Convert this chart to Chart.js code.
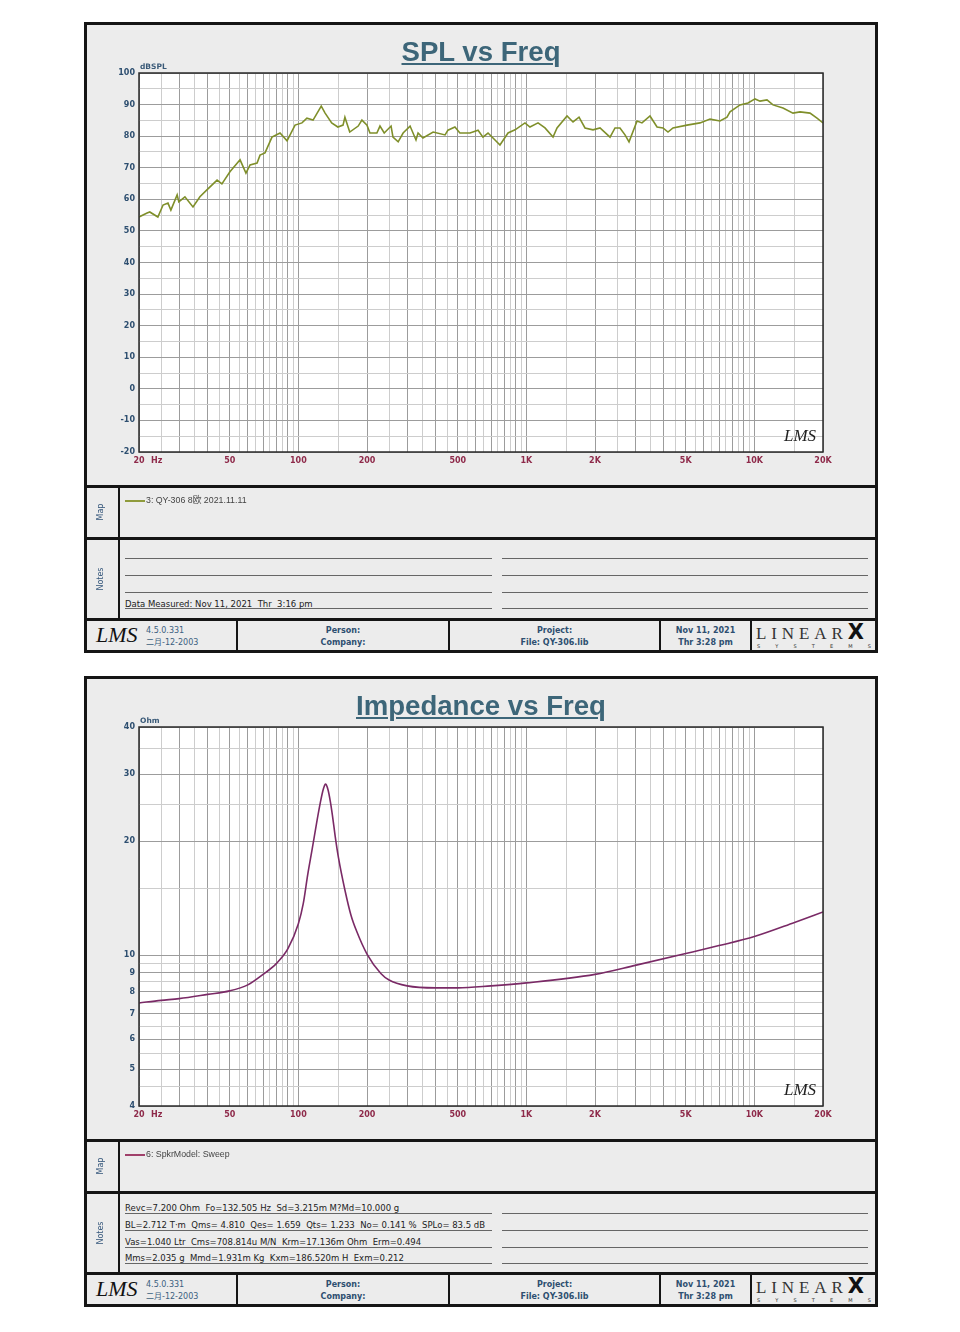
<!DOCTYPE html>
<html><head><meta charset="utf-8">
<script src="https://cdn.jsdelivr.net/npm/chart.js@4.4.0/dist/chart.umd.min.js"></script>
<style>
body{margin:0;background:#fff;width:960px;height:1332px;position:relative;font-family:"DejaVu Sans",sans-serif;}
.panel{position:absolute;left:84px;width:794px;height:631px;box-sizing:border-box;border:3px solid #151515;background:#ececec;overflow:hidden}
.panel canvas{position:absolute;left:0;top:0}
.title{position:absolute;left:0;top:12px;width:788px;text-align:center;font:bold 27.6px/30px "Liberation Sans",sans-serif;color:#3d6679;text-decoration:underline;text-decoration-thickness:2px;text-underline-offset:2px}
.plogo{position:absolute;left:697px;top:401px;font:italic 17px "Liberation Serif",serif;color:#222}
.hbar{position:absolute;left:0;width:788px;height:3px;background:#151515}
.vbar{position:absolute;width:2px;background:#151515}
.side{position:absolute;left:-15px;width:60px;height:12px;line-height:12px;margin-top:-6px;text-align:center;transform:rotate(-90deg);font:8px "DejaVu Sans";color:#33557a}
.legline{position:absolute;left:38px;width:20px;height:1.5px}
.legtext{position:absolute;left:59px;font:8.8px/10px "Liberation Sans","Noto Sans CJK SC",sans-serif;color:#444;white-space:pre}
.nl{position:absolute;height:1px;background:#666}
.nt{position:absolute;left:38px;font:8.5px/10px "DejaVu Sans",sans-serif;color:#222;white-space:pre}
.ft{position:absolute;font:8px/12px "DejaVu Sans","Noto Sans CJK SC",sans-serif;color:#2e4f70;text-align:center}
.flogo{position:absolute;left:9px;top:596px;font:italic 22px/28px "Liberation Serif",serif;color:#111}
.lx{position:absolute;left:669px;top:597px;width:118px;white-space:nowrap}
.lxl{font:17px/20px "Liberation Serif",serif;letter-spacing:4.9px;color:#333}
.lxx{font:900 21px/20px "DejaVu Sans",sans-serif;color:#111}
.lxs{position:absolute;left:670px;top:618px;width:114px;font:5px/6px "DejaVu Sans";color:#333;display:flex;justify-content:space-between}
</style></head><body>

<div class="panel" style="top:22px">
  <canvas id="c1" width="788" height="460"></canvas>
  <div class="title">SPL vs Freq</div>
  <div class="plogo">LMS</div>
  <div class="hbar" style="top:460px"></div>
  <div class="vbar" style="left:31px;top:463px;height:49px"></div>
  <div class="side" style="top:487px">Map</div>
  <div class="legline" style="top:475px;background:#8f9b3c"></div>
  <div class="legtext" style="top:470px">3: QY-306 8欧 2021.11.11</div>
  <div class="hbar" style="top:512px"></div>
  <div class="vbar" style="left:31px;top:515px;height:78px"></div>
  <div class="side" style="top:554px">Notes</div>
  <div class="nl" style="left:38px;width:367px;top:533px"></div>
  <div class="nl" style="left:38px;width:367px;top:550px"></div>
  <div class="nl" style="left:38px;width:367px;top:567px"></div>
  <div class="nl" style="left:38px;width:367px;top:583px"></div>
  <div class="nl" style="left:415px;width:366px;top:533px"></div>
  <div class="nl" style="left:415px;width:366px;top:550px"></div>
  <div class="nl" style="left:415px;width:366px;top:567px"></div>
  <div class="nl" style="left:415px;width:366px;top:583px"></div>
  <div class="nt" style="top:574px">Data Measured: Nov 11, 2021  Thr  3:16 pm</div>
  <div class="hbar" style="top:593px"></div>
  <div class="vbar" style="left:149px;top:596px;height:29px"></div>
  <div class="vbar" style="left:361px;top:596px;height:29px"></div>
  <div class="vbar" style="left:572px;top:596px;height:29px"></div>
  <div class="vbar" style="left:663px;top:596px;height:29px"></div>
  <div class="flogo">LMS</div>
  <div class="ft" style="left:59px;top:600px;text-align:left;color:#3b6080">4.5.0.331<br>二月-12-2003</div>
  <div class="ft" style="left:151px;width:210px;top:600px;font-weight:bold">Person:<br>Company:</div>
  <div class="ft" style="left:363px;width:209px;top:600px;font-weight:bold">Project:<br>File: QY-306.lib</div>
  <div class="ft" style="left:574px;width:89px;top:600px;font-weight:bold">Nov 11, 2021<br>Thr  3:28 pm</div>
  <div class="lx"><span class="lxl">LINEAR</span><span class="lxx">X</span></div>
  <div class="lxs"><span>S</span><span>Y</span><span>S</span><span>T</span><span>E</span><span>M</span><span>S</span></div>
</div>

<div class="panel" style="top:676px">
  <canvas id="c2" width="788" height="460"></canvas>
  <div class="title">Impedance vs Freq</div>
  <div class="plogo">LMS</div>
  <div class="hbar" style="top:460px"></div>
  <div class="vbar" style="left:31px;top:463px;height:49px"></div>
  <div class="side" style="top:487px">Map</div>
  <div class="legline" style="top:475px;background:#a0406a"></div>
  <div class="legtext" style="top:470px">6: SpkrModel: Sweep</div>
  <div class="hbar" style="top:512px"></div>
  <div class="vbar" style="left:31px;top:515px;height:78px"></div>
  <div class="side" style="top:554px">Notes</div>
  <div class="nl" style="left:38px;width:367px;top:534px"></div>
  <div class="nl" style="left:38px;width:367px;top:551px"></div>
  <div class="nl" style="left:38px;width:367px;top:568px"></div>
  <div class="nl" style="left:38px;width:367px;top:584px"></div>
  <div class="nl" style="left:415px;width:366px;top:534px"></div>
  <div class="nl" style="left:415px;width:366px;top:551px"></div>
  <div class="nl" style="left:415px;width:366px;top:568px"></div>
  <div class="nl" style="left:415px;width:366px;top:584px"></div>
  <div class="nt" style="top:524px">Revc=7.200 Ohm  Fo=132.505 Hz  Sd=3.215m M?Md=10.000 g</div>
  <div class="nt" style="top:541px">BL=2.712 T·m  Qms= 4.810  Qes= 1.659  Qts= 1.233  No= 0.141 %  SPLo= 83.5 dB</div>
  <div class="nt" style="top:558px">Vas=1.040 Ltr  Cms=708.814u M/N  Krm=17.136m Ohm  Erm=0.494</div>
  <div class="nt" style="top:574px">Mms=2.035 g  Mmd=1.931m Kg  Kxm=186.520m H  Exm=0.212</div>
  <div class="hbar" style="top:593px"></div>
  <div class="vbar" style="left:149px;top:596px;height:29px"></div>
  <div class="vbar" style="left:361px;top:596px;height:29px"></div>
  <div class="vbar" style="left:572px;top:596px;height:29px"></div>
  <div class="vbar" style="left:663px;top:596px;height:29px"></div>
  <div class="flogo">LMS</div>
  <div class="ft" style="left:59px;top:600px;text-align:left;color:#3b6080">4.5.0.331<br>二月-12-2003</div>
  <div class="ft" style="left:151px;width:210px;top:600px;font-weight:bold">Person:<br>Company:</div>
  <div class="ft" style="left:363px;width:209px;top:600px;font-weight:bold">Project:<br>File: QY-306.lib</div>
  <div class="ft" style="left:574px;width:89px;top:600px;font-weight:bold">Nov 11, 2021<br>Thr  3:28 pm</div>
  <div class="lx"><span class="lxl">LINEAR</span><span class="lxx">X</span></div>
  <div class="lxs"><span>S</span><span>Y</span><span>S</span><span>T</span><span>E</span><span>M</span><span>S</span></div>
</div>

<script>
// ---- data ----
const splFreqHz = [20,21.7,22.3,24.2,25.5,26.8,27.6,29.4,29.9,31.8,
  34.5,37,39.7,44,46.2,50.1,55.5,58.9,61.4,65.9,
  67.9,71.4,76.6,83.1,89.2,96.7,103.7,109,116,126,
  131,140,149,157,160,168,183,190,200,206,
  221,228,238,255,260,274,288,309,328,335,
  352,390,440,453,486,511,566,614,645,679,
  714,766,831,892,986,1037,1125,1207,1309,1363,
  1508,1602,1702,1808,1960,2104,2328,2448,2574,2708,
  2820,3058,3214,3486,3742,3974,4180,4396,5064,5774,
  6390,7068,7586,7818,8650,9380,10066,10586,11360,12070,
  13352,14770,15858,17540,18824,20000];
const splDb = [54.4,55.7,56,54.4,58.2,58.8,56.6,61.4,59.2,60.8,
  57.6,60.8,63,66.1,64.9,68.7,72.5,68.3,70.9,71.5,
  74,74.7,79.7,81,78.5,83.5,84.2,85.7,85.1,89.5,
  87.3,84.2,82.9,83.5,86,81.3,83.2,85.1,83.5,81,
  81,83.2,81,83.2,79.7,78.2,81,83.2,78.8,81,
  79.4,81.3,80.4,81.9,82.9,81,81,81.9,79.7,81,
  79.4,77.2,81,82,84.2,82.9,84.2,82.6,79.7,82.6,
  86.4,84.5,86,82.6,82,82.6,79.7,82.6,82.6,80.4,
  78.2,84.8,84.2,86.4,82.9,82.6,81.3,82.6,83.5,84.2,
  85.4,84.8,86,87.7,89.9,90.5,91.8,91.1,91.5,89.9,
  88.9,87.3,87.7,87.3,85.7,84.2];

const impFreqHz = [20,25,30,40,50,60,70,80,90,100,105,110,115,120,125,128,130,131.4,132.5,135,
  138,141,145,150,160,170,180,200,230,250,300,400,500,700,1000,2000,3000,5000,7000,10000,15000,20000];
const impOhm = [7.48,7.6,7.68,7.88,8.05,8.35,8.9,9.5,10.4,12.1,13.65,16.37,19.07,22.18,25.37,27.12,27.95,28.3,28.2,27.28,
  25.51,23.43,20.62,18.05,14.86,12.77,11.58,10.07,8.95,8.6,8.3,8.2,8.2,8.3,8.45,8.9,9.4,10.1,10.6,11.2,12.2,13.0];

const xLabelHz = [20,50,100,200,500,1000,2000,5000,10000,20000];
const xLabelText = ['20','50','100','200','500','1K','2K','5K','10K','20K'];
const xGridSteps = [1,1.5,2,2.5,3,3.5,4,4.5,5,5.5,6,6.5,7,7.5,8,8.5,9,9.5];
const xGridDecades = [10,100,1000,10000];

const splYMin = -20, splYMax = 100, splYStep = 5, splYLabelStep = 10;
const impYGrid = [4,4.5,5,5.5,6,6.5,7,7.5,8,8.5,9,9.5,10,15,20,25,30,35,40];
const impYLabels = [4,5,6,7,8,9,10,20,30,40];

// ---- helpers ----
const xGrid = [];
xGridDecades.forEach(d => xGridSteps.forEach(m => { const v = m*d; if (v >= 20 && v <= 20000) xGrid.push(v); }));
const near = (a,b) => Math.abs(a-b) < 1e-6*Math.max(1,Math.abs(b));
const isIntMult = v => { const m = v/Math.pow(10,Math.floor(Math.log10(v)+1e-9)); return near(m, Math.round(m)); };

const framePlugin = {
  id:'frame',
  beforeDraw(chart){
    const {ctx, chartArea:a} = chart;
    ctx.save(); ctx.fillStyle='#ffffff'; ctx.fillRect(a.left,a.top,a.right-a.left,a.bottom-a.top); ctx.restore();
  },
  afterDraw(chart, args, opts){
    const {ctx, chartArea:a} = chart;
    ctx.save();
    ctx.strokeStyle='#2a2a2a'; ctx.lineWidth=1.5;
    ctx.strokeRect(a.left,a.top,a.right-a.left,a.bottom-a.top);
    ctx.fillStyle='#3a5a78'; ctx.font='bold 7.5px "DejaVu Sans"'; ctx.textAlign='left'; ctx.textBaseline='alphabetic';
    ctx.fillText(opts.unit, a.left+1, a.top-4);
    const xs = chart.scales.x;
    ctx.fillStyle='#8e2a4a'; ctx.font='bold 8px "DejaVu Sans"'; ctx.textBaseline='middle';
    ctx.fillText('Hz', xs.getPixelForValue(20)+12, a.bottom+9);
    ctx.restore();
  }
};

const tickFont = {family:'DejaVu Sans', size:8, weight:'bold'};

function xScale(){
  return {
    type:'logarithmic', min:20, max:20000,
    afterBuildTicks: s => { s.ticks = xGrid.map(v => ({value:v})); },
    afterFit: s => { s.height = 33; },
    ticks:{autoSkip:false, maxRotation:0, minRotation:0, padding:4, color:'#8e2a4a', font:tickFont,
      callback: v => { const i = xLabelHz.findIndex(f => near(v,f)); return i >= 0 ? xLabelText[i] : ''; }},
    grid:{drawTicks:false, lineWidth:1, color: c => isIntMult(c.tick.value) ? '#9c9c9c' : '#cdcdcd'},
    border:{display:false}
  };
}

function baseOptions(yScale, unit){
  return {
    responsive:false, animation:false, events:[],
    layout:{padding:{top:48, right:52, bottom:0, left:0}},
    plugins:{legend:{display:false}, tooltip:{enabled:false}, frame:{unit}},
    scales:{x:xScale(), y:yScale}
  };
}

new Chart(document.getElementById('c1'), {
  type:'line',
  data:{datasets:[{data: splFreqHz.map((f,i)=>({x:f, y:splDb[i]})), borderColor:'#7f8f2a', borderWidth:1.6, pointRadius:0, tension:0, fill:false}]},
  options: baseOptions({
    type:'linear', min:splYMin, max:splYMax,
    afterFit: s => { s.width = 52; },
    ticks:{stepSize:splYStep, autoSkip:false, padding:4, color:'#2e4f70', font:tickFont,
      callback: v => (Math.round(v) % splYLabelStep === 0) ? String(v) : ''},
    grid:{drawTicks:false, lineWidth:1, color: c => (Math.round(c.tick.value) % splYLabelStep === 0) ? '#9c9c9c' : '#cdcdcd'},
    border:{display:false}
  }, 'dBSPL'),
  plugins:[framePlugin]
});

new Chart(document.getElementById('c2'), {
  type:'line',
  data:{datasets:[{data: impFreqHz.map((f,i)=>({x:f, y:impOhm[i]})), borderColor:'#7a2a66', borderWidth:1.6, pointRadius:0, cubicInterpolationMode:'monotone', fill:false}]},
  options: baseOptions({
    type:'logarithmic', min:4, max:40,
    afterBuildTicks: s => { s.ticks = impYGrid.map(v => ({value:v})); },
    afterFit: s => { s.width = 52; },
    ticks:{autoSkip:false, padding:4, color:'#2e4f70', font:tickFont,
      callback: v => impYLabels.some(l => near(v,l)) ? String(v) : ''},
    grid:{drawTicks:false, lineWidth:1, color: c => impYLabels.some(l => near(c.tick.value,l)) ? '#9c9c9c' : '#cdcdcd'},
    border:{display:false}
  }, 'Ohm'),
  plugins:[framePlugin]
});
</script>
</body></html>
